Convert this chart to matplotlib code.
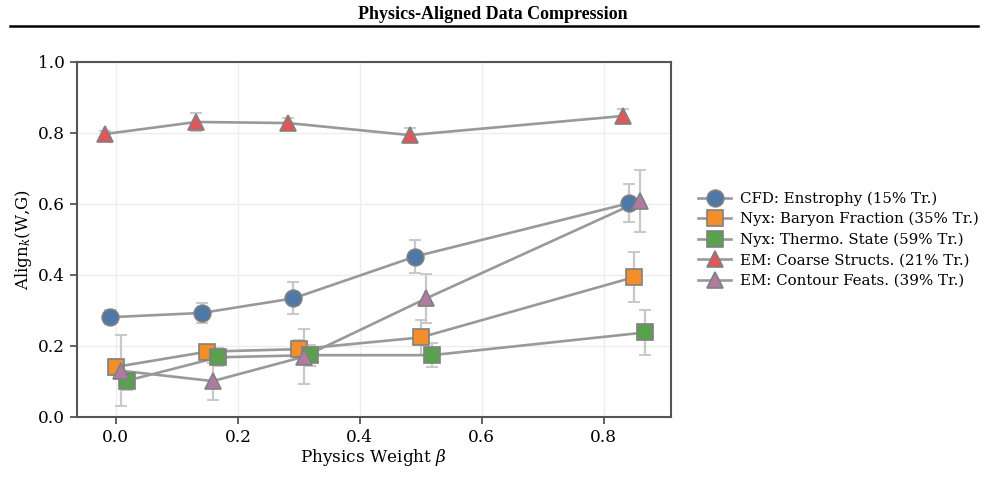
import matplotlib
matplotlib.use("Agg")
import matplotlib.pyplot as plt
from matplotlib.lines import Line2D

plt.rcParams['font.family'] = ['DejaVu Serif']
plt.rcParams['mathtext.fontset'] = 'dejavuserif'

labels = ["CFD: Enstrophy (15% Tr.)",
          "Nyx: Baryon Fraction (35% Tr.)",
          "Nyx: Thermo. State (59% Tr.)",
          "EM: Coarse Structs. (21% Tr.)",
          "EM: Contour Feats. (39% Tr.)"]
beta = [0.0, 0.15, 0.3, 0.5, 0.85]
x_offsets = [-0.009, 0.0, 0.018, -0.018, 0.009]
values = [
    [0.281, 0.293, 0.334, 0.452, 0.602],
    [0.141, 0.184, 0.191, 0.224, 0.394],
    [0.102, 0.168, 0.174, 0.174, 0.238],
    [0.797, 0.831, 0.828, 0.794, 0.848],
    [0.130, 0.101, 0.170, 0.334, 0.608],
]
errors = [
    [0.020, 0.027, 0.045, 0.046, 0.054],
    [0.022, 0.018, 0.025, 0.050, 0.071],
    [0.025, 0.025, 0.030, 0.033, 0.064],
    [0.010, 0.025, 0.015, 0.020, 0.020],
    [0.100, 0.052, 0.078, 0.070, 0.088],
]
colors = ["#4e79a7", "#f28e2b", "#59a14f", "#e15759", "#b07aa1"]
markers = ["o", "s", "s", "^", "^"]
msizes = [12, 11, 11, 11.5, 12]

fig = plt.figure(figsize=(9.85, 4.94), dpi=100)
ax = fig.add_axes([0.078, 0.156, 0.603, 0.7185])

handles = []
for i in range(5):
    xs = [b + x_offsets[i] for b in beta]
    ax.errorbar(xs, values[i], yerr=errors[i], fmt='none', ecolor='#c8c8c8',
                elinewidth=1.6, capsize=4, capthick=1.4, zorder=2)
    ax.plot(xs, values[i], color='#999999', lw=1.9, zorder=3)
    ax.plot(xs, values[i], linestyle='none', marker=markers[i], ms=msizes[i],
            mfc=colors[i], mec='#808080', mew=1.2, zorder=4)
    handles.append(Line2D([0], [0], color='#999999', lw=1.9, marker=markers[i],
                          ms=msizes[i], mfc=colors[i], mec='#808080', mew=1.2))

ax.set_xlim(-0.064, 0.91)
ax.set_ylim(0.0, 1.0)
ax.set_xticks([0.0, 0.2, 0.4, 0.6, 0.8])
ax.set_yticks([0.0, 0.2, 0.4, 0.6, 0.8, 1.0])
ax.tick_params(axis='both', labelsize=12.2, length=5, width=1.3, color='#555555', direction='out')
ax.grid(True, color='#ededed', lw=1.0, zorder=0)
ax.set_axisbelow(True)
for s in ax.spines.values():
    s.set_color('#555555')
    s.set_linewidth(1.5)

ax.set_xlabel(r"Physics Weight $\beta$", fontsize=12.2, labelpad=1)
ax.set_ylabel(r"Align$_k$(W,G)", fontsize=12, labelpad=3)

fig.legend(handles, labels, loc='center left', bbox_to_anchor=(0.695, 0.515),
           frameon=False, fontsize=10.8, handlelength=2.2, handletextpad=0.6,
           labelspacing=0.42)

fig.text(0.5, 0.971, "Physics-Aligned Data Compression", ha='center', va='center',
         fontsize=13, fontweight='bold', family='Liberation Serif')
fig.add_artist(Line2D([0.01, 0.993], [0.948, 0.948], color='black', lw=1.8,
                      transform=fig.transFigure))

fig.savefig("out.png", dpi=100)
